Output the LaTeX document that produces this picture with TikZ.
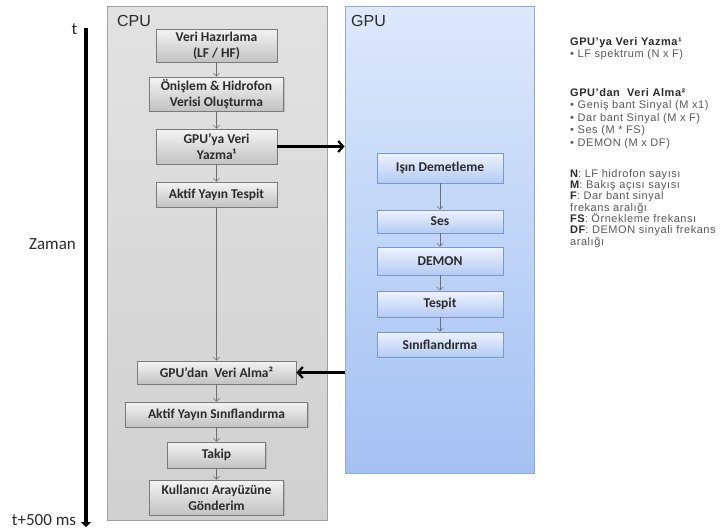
\documentclass[tikz,border=0pt]{standalone}
\usepackage{fontspec}
\setmainfont{Carlito}
\newfontfamily\arialf{Liberation Sans}
\newfontfamily\arialsp[LetterSpace=5]{Liberation Sans}
\usetikzlibrary{arrows.meta,shadows}
\definecolor{cpuTop}{HTML}{E2E2E2}
\definecolor{cpuBot}{HTML}{D0D0D0}
\definecolor{cpuLine}{HTML}{A0A0A0}
\definecolor{gpuTop}{HTML}{DDE8FB}
\definecolor{gpuBot}{HTML}{A3C1F3}
\definecolor{gpuLine}{HTML}{93AAD2}
\definecolor{cboxTop}{HTML}{F4F4F4}
\definecolor{cboxBot}{HTML}{C2C2C2}
\definecolor{cboxLine}{HTML}{7A7A7A}
\definecolor{gboxTop}{HTML}{EEF3FD}
\definecolor{gboxBot}{HTML}{B4CBF3}
\definecolor{gboxLine}{HTML}{7C98C8}
\definecolor{txt}{HTML}{2B2B2B}
\definecolor{note}{HTML}{595959}
\definecolor{flow}{HTML}{6E6E6E}
\begin{document}
\begin{tikzpicture}[x=1pt,y=-1pt,
  container/.style={draw=#1Line, line width=0.8pt, top color=#1Top, bottom color=#1Bot,
    inner sep=0pt, drop shadow={shadow xshift=1.2pt, shadow yshift=-1.2pt, opacity=0.25}},
  cpubox/.style={draw=cboxLine, line width=0.7pt, top color=cboxTop, bottom color=cboxBot,
    inner sep=0pt, align=center, text=txt, font=\fontsize{13.5}{16}\selectfont\bfseries,
    drop shadow={shadow xshift=1.2pt, shadow yshift=-1.2pt, opacity=0.35}},
  gpubox/.style={draw=gboxLine, line width=0.7pt, top color=gboxTop, bottom color=gboxBot,
    inner sep=0pt, align=center, text=txt, font=\fontsize{13.5}{16}\selectfont\bfseries,
    minimum width=126pt,
    drop shadow={shadow xshift=1.2pt, shadow yshift=-1.2pt, opacity=0.35}},
  flowarrow/.style={draw=flow, line width=0.6pt, -{Straight Barb[length=3pt,width=6pt]}},
  bigarrow/.style={draw=black, line width=2.2pt, -{Straight Barb[length=5pt,width=11pt]}},
  title/.style={font=\arialf\fontsize{16}{18}\selectfont, text=txt, inner sep=0pt},
  timelabel/.style={font=\fontsize{17}{19}\selectfont, text=txt, inner sep=0pt},
  notetext/.style={font=\arialsp\fontsize{11}{12}\selectfont, text=note, inner sep=0pt, anchor=base west},
  notehead/.style={font=\arialsp\fontsize{11}{12}\selectfont\bfseries, text=txt, inner sep=0pt, anchor=base west}
]
\useasboundingbox[fill=white] (0,0) rectangle (722,530);

% containers
\node[container=cpu, minimum width=220pt, minimum height=514pt] (cpu) at (217,263) {};
\node[container=gpu, minimum width=189pt, minimum height=467pt] (gpu) at (439.5,239.5) {};
\node[title] (cpulbl) at (134,21) {CPU};
\node[title] (gpulbl) at (368.5,21) {GPU};

% timeline
\coordinate (tl1) at (86,28);
\coordinate (tl2) at (86,527);
\draw[line width=4pt, -{Triangle[length=5pt,width=10pt]}] (tl1) -- (tl2);
\node[timelabel] (tt) at (74.5,29) {t};
\node[timelabel] (zaman) at (52.5,244) {Zaman};
\node[timelabel] (tend) at (44,520) {t+500 ms};

% CPU boxes
\node[cpubox, minimum width=121pt, minimum height=33pt] (vh) at (216.5,45.5) {Veri Hazırlama\\(LF / HF)};
\node[cpubox, minimum width=134pt, minimum height=34pt] (on) at (216.5,94) {Önişlem \& Hidrofon\\Verisi Oluşturma};
\node[cpubox, minimum width=121pt, minimum height=35pt] (gy) at (216.5,146.5) {GPU’ya Veri\\Yazma¹};
\node[cpubox, minimum width=121pt, minimum height=25pt] (at) at (216.5,194.5) {Aktif Yayın Tespit};
\node[cpubox, minimum width=159pt, minimum height=23pt] (ga) at (216.5,372.5) {GPU’dan\ \ Veri Alma²};
\node[cpubox, minimum width=182pt, minimum height=25pt] (ays) at (216.5,414.5) {Aktif Yayın Sınıflandırma};
\node[cpubox, minimum width=98pt, minimum height=26pt] (tk) at (216.5,455) {Takip};
\node[cpubox, minimum width=134pt, minimum height=35pt] (ku) at (216.5,497.5) {Kullanıcı Arayüzüne\\Gönderim};

\draw[flowarrow] (vh) -- (on);
\draw[flowarrow] (on) -- (gy);
\draw[flowarrow] (gy) -- (at);
\draw[flowarrow] (at) -- (ga);
\draw[flowarrow] (ga) -- (ays);
\draw[flowarrow] (ays) -- (tk);
\draw[flowarrow] (tk) -- (ku);

% GPU boxes
\node[gpubox, minimum height=30pt] (isin) at (440,168) {Işın Demetleme};
\node[gpubox, minimum height=23pt] (ses) at (440,221.5) {Ses};
\node[gpubox, minimum height=28pt] (demon) at (440,261) {DEMON};
\node[gpubox, minimum height=26pt] (tespit) at (440,304) {Tespit};
\node[gpubox, minimum height=25pt] (sinif) at (440,344.5) {Sınıflandırma};

\draw[flowarrow] (isin) -- (ses);
\draw[flowarrow] (ses) -- (demon);
\draw[flowarrow] (demon) -- (tespit);
\draw[flowarrow] (tespit) -- (sinif);

% CPU <-> GPU
\draw[bigarrow] (gy.east) -- (gy.east -| gpu.west);
\draw[bigarrow] (ga.east -| gpu.west) -- (ga.east);

% notes
\node[notehead] (n1) at (570,45.5) {GPU’ya Veri Yazma¹};
\node[notetext] (n2) at (570,57.5) {• LF spektrum (N x F)};
\node[notehead] (n3) at (570,96) {GPU’dan\ \ Veri Alma²};
\node[notetext] (n4) at (570,108.5) {• Geniş bant Sinyal (M x1)};
\node[notetext] (n5) at (570,121) {• Dar bant Sinyal (M x F)};
\node[notetext] (n6) at (570,133.5) {• Ses (M * FS)};
\node[notetext] (n7) at (570,146) {• DEMON (M x DF)};
\node[notetext] (n8) at (570,177) {\textcolor{txt}{\bfseries N}: LF hidrofon sayısı};
\node[notetext] (n9) at (570,188) {\textcolor{txt}{\bfseries M}: Bakış açısı sayısı};
\node[notetext] (n10) at (570,199.5) {\textcolor{txt}{\bfseries F}: Dar bant sinyal};
\node[notetext] (n11) at (570,211) {frekans aralığı};
\node[notetext] (n12) at (570,222) {\textcolor{txt}{\bfseries FS}: Örnekleme frekansı};
\node[notetext] (n13) at (570,233) {\textcolor{txt}{\bfseries DF}: DEMON sinyali frekans};
\node[notetext] (n14) at (570,245) {aralığı};
\end{tikzpicture}
\end{document}
